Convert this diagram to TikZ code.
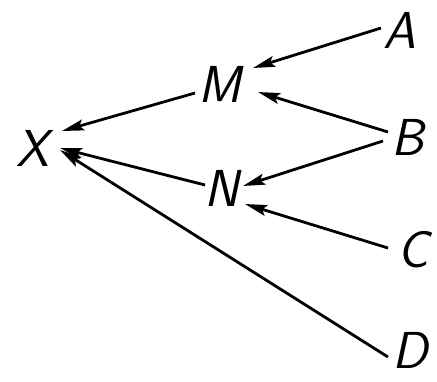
\documentclass[tikz,border=0pt]{standalone}
\usetikzlibrary{arrows.meta}
\begin{document}
\begin{tikzpicture}[x=1pt,y=-1pt,
  letter/.style={font=\fontsize{52}{52}\selectfont\sffamily\itshape, inner sep=0pt},
  arr/.style={line width=2.8pt, -{Stealth[length=22pt,width=11pt,inset=4pt]}}]
\useasboundingbox (0,0) rectangle (437,381);

% letters
\node[letter] (X) at (33,148) {X};
\node[letter] (M) at (220,84) {M};
\node[letter] (N) at (222,188) {N};
\node[letter] (A) at (400,30) {A};
\node[letter] (B) at (408,137) {B};
\node[letter] (C) at (413,250) {C};
\node[letter] (D) at (410,350) {D};

% arrows into M and N
\draw[arr] ([shift={(-19,-2)}]A.center) -- ([shift={(33,-16)}]M.center);
\draw[arr] ([shift={(-20,-5)}]B.center) -- ([shift={(38,8)}]M.center);
\draw[arr] ([shift={(-25,4)}]B.center) -- ([shift={(21,-2)}]N.center);
\draw[arr] ([shift={(-25,-2)}]C.center) -- ([shift={(23,16)}]N.center);

% arrows into X
\draw[arr] ([shift={(-25,9)}]M.center) -- ([shift={(29,-17)}]X.center);
\draw[arr] ([shift={(-17,-3)}]N.center) -- ([shift={(27,0)}]X.center);
\draw[arr] ([shift={(-22,7)}]D.center) -- ([shift={(27,2)}]X.center);
\end{tikzpicture}
\end{document}
